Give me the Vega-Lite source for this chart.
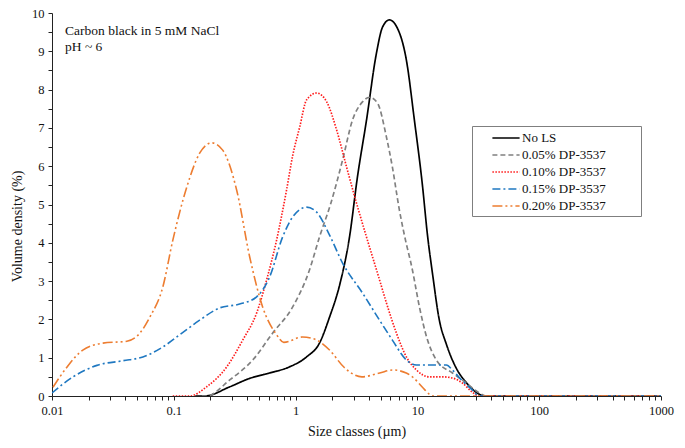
{
  "$schema": "https://vega.github.io/schema/vega-lite/v6.json",
  "width": 609,
  "height": 383,
  "autosize": {"type": "none"},
  "padding": {"left": 52, "top": 13, "right": 24, "bottom": 52},
  "background": "white",
  "config": {
    "font": "Liberation Serif",
    "view": {"stroke": null},
    "axis": {
      "grid": false,
      "domainColor": "#222",
      "tickColor": "#222",
      "labelColor": "#111",
      "titleColor": "#111",
      "labelFontSize": 12.5,
      "titleFontSize": 14,
      "titleFontWeight": "normal",
      "labelFlush": false,
      "labelOverlap": false
    }
  },
  "encoding": {
    "x": {
      "field": "size",
      "type": "quantitative",
      "scale": {"type": "log", "domain": [0.01, 1000], "nice": false},
      "axis": {
        "title": "Size classes (µm)",
        "values": [0.01, 0.02, 0.03, 0.04, 0.05, 0.06, 0.07, 0.08, 0.09, 0.1, 0.2, 0.3, 0.4, 0.5, 0.6, 0.7, 0.8, 0.9, 1, 2, 3, 4, 5, 6, 7, 8, 9, 10, 20, 30, 40, 50, 60, 70, 80, 90, 100, 200, 300, 400, 500, 600, 700, 800, 900, 1000],
        "labelExpr": "(datum.value == 0.01 || datum.value == 0.1 || datum.value == 1 || datum.value == 10 || datum.value == 100 || datum.value == 1000) ? format(datum.value, '~g') : ''",
        "labelOverlap": false,
        "tickSize": 4,
        "labelPadding": 4,
        "titlePadding": 8
      }
    },
    "y": {
      "field": "density",
      "type": "quantitative",
      "scale": {"domain": [0, 10], "nice": false},
      "axis": {
        "title": "Volume density (%)",
        "values": [0, 0.5, 1, 1.5, 2, 2.5, 3, 3.5, 4, 4.5, 5, 5.5, 6, 6.5, 7, 7.5, 8, 8.5, 9, 9.5, 10],
        "labelExpr": "floor(datum.value) == datum.value ? format(datum.value, 'd') : ''",
        "labelOverlap": false,
        "tickSize": 4,
        "labelPadding": 4,
        "titlePadding": 7,
        "titleY": 213
      }
    }
  },
  "layer": [
    {
      "data": {
        "values": [
          {"s": "No LS", "size": 0.15, "density": 0},
          {"s": "No LS", "size": 0.18, "density": 0},
          {"s": "No LS", "size": 0.288, "density": 0.24},
          {"s": "No LS", "size": 0.42, "density": 0.46},
          {"s": "No LS", "size": 0.61, "density": 0.6},
          {"s": "No LS", "size": 0.89, "density": 0.76},
          {"s": "No LS", "size": 1.23, "density": 1.02},
          {"s": "No LS", "size": 1.57, "density": 1.38},
          {"s": "No LS", "size": 1.9, "density": 2.06},
          {"s": "No LS", "size": 2.3, "density": 2.9},
          {"s": "No LS", "size": 2.77, "density": 4.15},
          {"s": "No LS", "size": 3.22, "density": 5.72},
          {"s": "No LS", "size": 3.82, "density": 7.2},
          {"s": "No LS", "size": 4.61, "density": 8.95},
          {"s": "No LS", "size": 5.17, "density": 9.63},
          {"s": "No LS", "size": 5.89, "density": 9.82},
          {"s": "No LS", "size": 6.86, "density": 9.6},
          {"s": "No LS", "size": 8.12, "density": 8.77},
          {"s": "No LS", "size": 9.45, "density": 7.2},
          {"s": "No LS", "size": 11, "density": 5.5},
          {"s": "No LS", "size": 12.1, "density": 4.2},
          {"s": "No LS", "size": 13.3, "density": 3.2},
          {"s": "No LS", "size": 15.1, "density": 2.0},
          {"s": "No LS", "size": 17.3, "density": 1.35},
          {"s": "No LS", "size": 20.9, "density": 0.72},
          {"s": "No LS", "size": 25.2, "density": 0.35},
          {"s": "No LS", "size": 32, "density": 0.05},
          {"s": "No LS", "size": 36, "density": 0},
          {"s": "No LS", "size": 1000, "density": 0},

          {"s": "0.05% DP-3537", "size": 0.17, "density": 0},
          {"s": "0.05% DP-3537", "size": 0.186, "density": 0},
          {"s": "0.05% DP-3537", "size": 0.288, "density": 0.42},
          {"s": "0.05% DP-3537", "size": 0.445, "density": 0.94},
          {"s": "0.05% DP-3537", "size": 0.647, "density": 1.64},
          {"s": "0.05% DP-3537", "size": 0.944, "density": 2.32},
          {"s": "0.05% DP-3537", "size": 1.3, "density": 3.29},
          {"s": "0.05% DP-3537", "size": 1.57, "density": 4.15},
          {"s": "0.05% DP-3537", "size": 1.95, "density": 5.04},
          {"s": "0.05% DP-3537", "size": 2.43, "density": 6.16},
          {"s": "0.05% DP-3537", "size": 2.93, "density": 7.2},
          {"s": "0.05% DP-3537", "size": 3.54, "density": 7.68},
          {"s": "0.05% DP-3537", "size": 4.04, "density": 7.8},
          {"s": "0.05% DP-3537", "size": 4.7, "density": 7.65},
          {"s": "0.05% DP-3537", "size": 5.57, "density": 6.76},
          {"s": "0.05% DP-3537", "size": 6.23, "density": 5.98},
          {"s": "0.05% DP-3537", "size": 7.11, "density": 4.86},
          {"s": "0.05% DP-3537", "size": 7.82, "density": 4.2},
          {"s": "0.05% DP-3537", "size": 9.1, "density": 3.29},
          {"s": "0.05% DP-3537", "size": 10.4, "density": 2.32},
          {"s": "0.05% DP-3537", "size": 11.9, "density": 1.54},
          {"s": "0.05% DP-3537", "size": 14.3, "density": 0.94},
          {"s": "0.05% DP-3537", "size": 19.4, "density": 0.6},
          {"s": "0.05% DP-3537", "size": 25.2, "density": 0.34},
          {"s": "0.05% DP-3537", "size": 32.2, "density": 0.08},
          {"s": "0.05% DP-3537", "size": 36.8, "density": 0},
          {"s": "0.05% DP-3537", "size": 1000, "density": 0},

          {"s": "0.10% DP-3537", "size": 0.098, "density": 0},
          {"s": "0.10% DP-3537", "size": 0.135, "density": 0},
          {"s": "0.10% DP-3537", "size": 0.186, "density": 0.24},
          {"s": "0.10% DP-3537", "size": 0.272, "density": 0.76},
          {"s": "0.10% DP-3537", "size": 0.368, "density": 1.46},
          {"s": "0.10% DP-3537", "size": 0.479, "density": 2.17},
          {"s": "0.10% DP-3537", "size": 0.578, "density": 3.03},
          {"s": "0.10% DP-3537", "size": 0.698, "density": 4.07},
          {"s": "0.10% DP-3537", "size": 0.843, "density": 5.38},
          {"s": "0.10% DP-3537", "size": 0.95, "density": 6.3},
          {"s": "0.10% DP-3537", "size": 1.08, "density": 7.02},
          {"s": "0.10% DP-3537", "size": 1.23, "density": 7.73},
          {"s": "0.10% DP-3537", "size": 1.49, "density": 7.91},
          {"s": "0.10% DP-3537", "size": 1.8, "density": 7.68},
          {"s": "0.10% DP-3537", "size": 2.17, "density": 6.95},
          {"s": "0.10% DP-3537", "size": 2.62, "density": 5.98},
          {"s": "0.10% DP-3537", "size": 3.16, "density": 5.04},
          {"s": "0.10% DP-3537", "size": 3.82, "density": 4.15},
          {"s": "0.10% DP-3537", "size": 4.89, "density": 3.03},
          {"s": "0.10% DP-3537", "size": 5.57, "density": 2.43},
          {"s": "0.10% DP-3537", "size": 6.73, "density": 1.64},
          {"s": "0.10% DP-3537", "size": 8.12, "density": 1.02},
          {"s": "0.10% DP-3537", "size": 9.81, "density": 0.68},
          {"s": "0.10% DP-3537", "size": 12.5, "density": 0.5},
          {"s": "0.10% DP-3537", "size": 16, "density": 0.5},
          {"s": "0.10% DP-3537", "size": 19.4, "density": 0.47},
          {"s": "0.10% DP-3537", "size": 23.4, "density": 0.34},
          {"s": "0.10% DP-3537", "size": 28.2, "density": 0.1},
          {"s": "0.10% DP-3537", "size": 32.2, "density": 0},
          {"s": "0.10% DP-3537", "size": 1000, "density": 0},

          {"s": "0.15% DP-3537", "size": 0.01, "density": 0.08},
          {"s": "0.15% DP-3537", "size": 0.0149, "density": 0.5},
          {"s": "0.15% DP-3537", "size": 0.0234, "density": 0.8},
          {"s": "0.15% DP-3537", "size": 0.0382, "density": 0.92},
          {"s": "0.15% DP-3537", "size": 0.0557, "density": 1.02},
          {"s": "0.15% DP-3537", "size": 0.0813, "density": 1.28},
          {"s": "0.15% DP-3537", "size": 0.112, "density": 1.6},
          {"s": "0.15% DP-3537", "size": 0.163, "density": 1.98},
          {"s": "0.15% DP-3537", "size": 0.238, "density": 2.3},
          {"s": "0.15% DP-3537", "size": 0.347, "density": 2.4},
          {"s": "0.15% DP-3537", "size": 0.479, "density": 2.59},
          {"s": "0.15% DP-3537", "size": 0.612, "density": 3.11},
          {"s": "0.15% DP-3537", "size": 0.782, "density": 4.15},
          {"s": "0.15% DP-3537", "size": 0.944, "density": 4.67},
          {"s": "0.15% DP-3537", "size": 1.23, "density": 4.93},
          {"s": "0.15% DP-3537", "size": 1.49, "density": 4.8},
          {"s": "0.15% DP-3537", "size": 1.9, "density": 4.2},
          {"s": "0.15% DP-3537", "size": 2.43, "density": 3.47},
          {"s": "0.15% DP-3537", "size": 3.54, "density": 2.69},
          {"s": "0.15% DP-3537", "size": 4.89, "density": 1.98},
          {"s": "0.15% DP-3537", "size": 6.23, "density": 1.46},
          {"s": "0.15% DP-3537", "size": 8.12, "density": 0.94},
          {"s": "0.15% DP-3537", "size": 9.81, "density": 0.81},
          {"s": "0.15% DP-3537", "size": 13.3, "density": 0.81},
          {"s": "0.15% DP-3537", "size": 17.3, "density": 0.81},
          {"s": "0.15% DP-3537", "size": 19.4, "density": 0.68},
          {"s": "0.15% DP-3537", "size": 23, "density": 0.42},
          {"s": "0.15% DP-3537", "size": 28.2, "density": 0.16},
          {"s": "0.15% DP-3537", "size": 32.2, "density": 0},
          {"s": "0.15% DP-3537", "size": 1000, "density": 0},

          {"s": "0.20% DP-3537", "size": 0.0102, "density": 0.23},
          {"s": "0.20% DP-3537", "size": 0.0133, "density": 0.76},
          {"s": "0.20% DP-3537", "size": 0.0179, "density": 1.2},
          {"s": "0.20% DP-3537", "size": 0.0262, "density": 1.38},
          {"s": "0.20% DP-3537", "size": 0.0412, "density": 1.43},
          {"s": "0.20% DP-3537", "size": 0.0526, "density": 1.64},
          {"s": "0.20% DP-3537", "size": 0.0636, "density": 2.06},
          {"s": "0.20% DP-3537", "size": 0.0813, "density": 2.85},
          {"s": "0.20% DP-3537", "size": 0.0982, "density": 4.07},
          {"s": "0.20% DP-3537", "size": 0.128, "density": 5.46},
          {"s": "0.20% DP-3537", "size": 0.163, "density": 6.34},
          {"s": "0.20% DP-3537", "size": 0.205, "density": 6.61},
          {"s": "0.20% DP-3537", "size": 0.252, "density": 6.42},
          {"s": "0.20% DP-3537", "size": 0.328, "density": 5.38},
          {"s": "0.20% DP-3537", "size": 0.42, "density": 3.63},
          {"s": "0.20% DP-3537", "size": 0.537, "density": 2.32},
          {"s": "0.20% DP-3537", "size": 0.698, "density": 1.6},
          {"s": "0.20% DP-3537", "size": 0.8, "density": 1.4},
          {"s": "0.20% DP-3537", "size": 1.14, "density": 1.54},
          {"s": "0.20% DP-3537", "size": 1.49, "density": 1.46},
          {"s": "0.20% DP-3537", "size": 1.9, "density": 1.2},
          {"s": "0.20% DP-3537", "size": 2.5, "density": 0.75},
          {"s": "0.20% DP-3537", "size": 3.5, "density": 0.5},
          {"s": "0.20% DP-3537", "size": 4.9, "density": 0.6},
          {"s": "0.20% DP-3537", "size": 6.3, "density": 0.68},
          {"s": "0.20% DP-3537", "size": 8.1, "density": 0.6},
          {"s": "0.20% DP-3537", "size": 9.1, "density": 0.5},
          {"s": "0.20% DP-3537", "size": 11, "density": 0.23},
          {"s": "0.20% DP-3537", "size": 12.5, "density": 0.05},
          {"s": "0.20% DP-3537", "size": 13.5, "density": 0},
          {"s": "0.20% DP-3537", "size": 1000, "density": 0}
        ]
      },
      "mark": {"type": "line", "interpolate": "monotone", "clip": true},
      "encoding": {
        "color": {
          "field": "s",
          "type": "nominal",
          "title": "\u2800\u2800\u2800",
          "scale": {
            "domain": ["No LS", "0.05% DP-3537", "0.10% DP-3537", "0.15% DP-3537", "0.20% DP-3537"],
            "range": ["#000000", "#808080", "#ff1a1a", "#1f78c1", "#ed7d31"]
          },
          "legend": {
            "orient": "none",
            "legendX": 420,
            "legendY": 113,
            "titleOrient": "right",
            "titleFontSize": 13,
            "titlePadding": 2,
            "strokeColor": "#7f7f7f",
            "fillColor": "white",
            "padding": 3,
            "symbolType": "M-1.7,0H1.7",
            "symbolSize": 256,
            "symbolStrokeWidth": 1.5,
            "symbolOffset": 22,
            "labelFontSize": 13,
            "labelColor": "#111",
            "labelOffset": 7,
            "rowPadding": 1
          }
        },
        "strokeDash": {
          "field": "s",
          "type": "nominal",
          "title": "\u2800\u2800\u2800",
          "scale": {
            "domain": ["No LS", "0.05% DP-3537", "0.10% DP-3537", "0.15% DP-3537", "0.20% DP-3537"],
            "range": [[1, 0], [5, 3], [1.5, 1.5], [8, 3, 2, 3], [10, 3, 2, 3, 2, 3]]
          },
          "legend": {
            "orient": "none",
            "legendX": 420,
            "legendY": 113,
            "titleOrient": "right",
            "titleFontSize": 13,
            "titlePadding": 2,
            "strokeColor": "#7f7f7f",
            "fillColor": "white",
            "padding": 3,
            "symbolType": "M-1.7,0H1.7",
            "symbolSize": 256,
            "symbolStrokeWidth": 1.5,
            "symbolOffset": 22,
            "labelFontSize": 13,
            "labelColor": "#111",
            "labelOffset": 7,
            "rowPadding": 1
          }
        },
        "strokeWidth": {
          "field": "s",
          "type": "nominal",
          "scale": {
            "domain": ["No LS", "0.05% DP-3537", "0.10% DP-3537", "0.15% DP-3537", "0.20% DP-3537"],
            "range": [1.7, 1.6, 1.3, 1.8, 1.8]
          },
          "legend": null
        },
        "order": {"field": "size", "type": "quantitative"}
      }
    },
    {
      "data": {
        "values": [
          {"size": 0.0128, "density": 9.43, "label": "Carbon black in 5 mM NaCl"},
          {"size": 0.0128, "density": 9.0, "label": "pH ~ 6"}
        ]
      },
      "mark": {"type": "text", "align": "left", "baseline": "alphabetic", "fontSize": 13.5, "color": "#111"},
      "encoding": {
        "text": {"field": "label", "type": "nominal"}
      }
    }
  ]
}
